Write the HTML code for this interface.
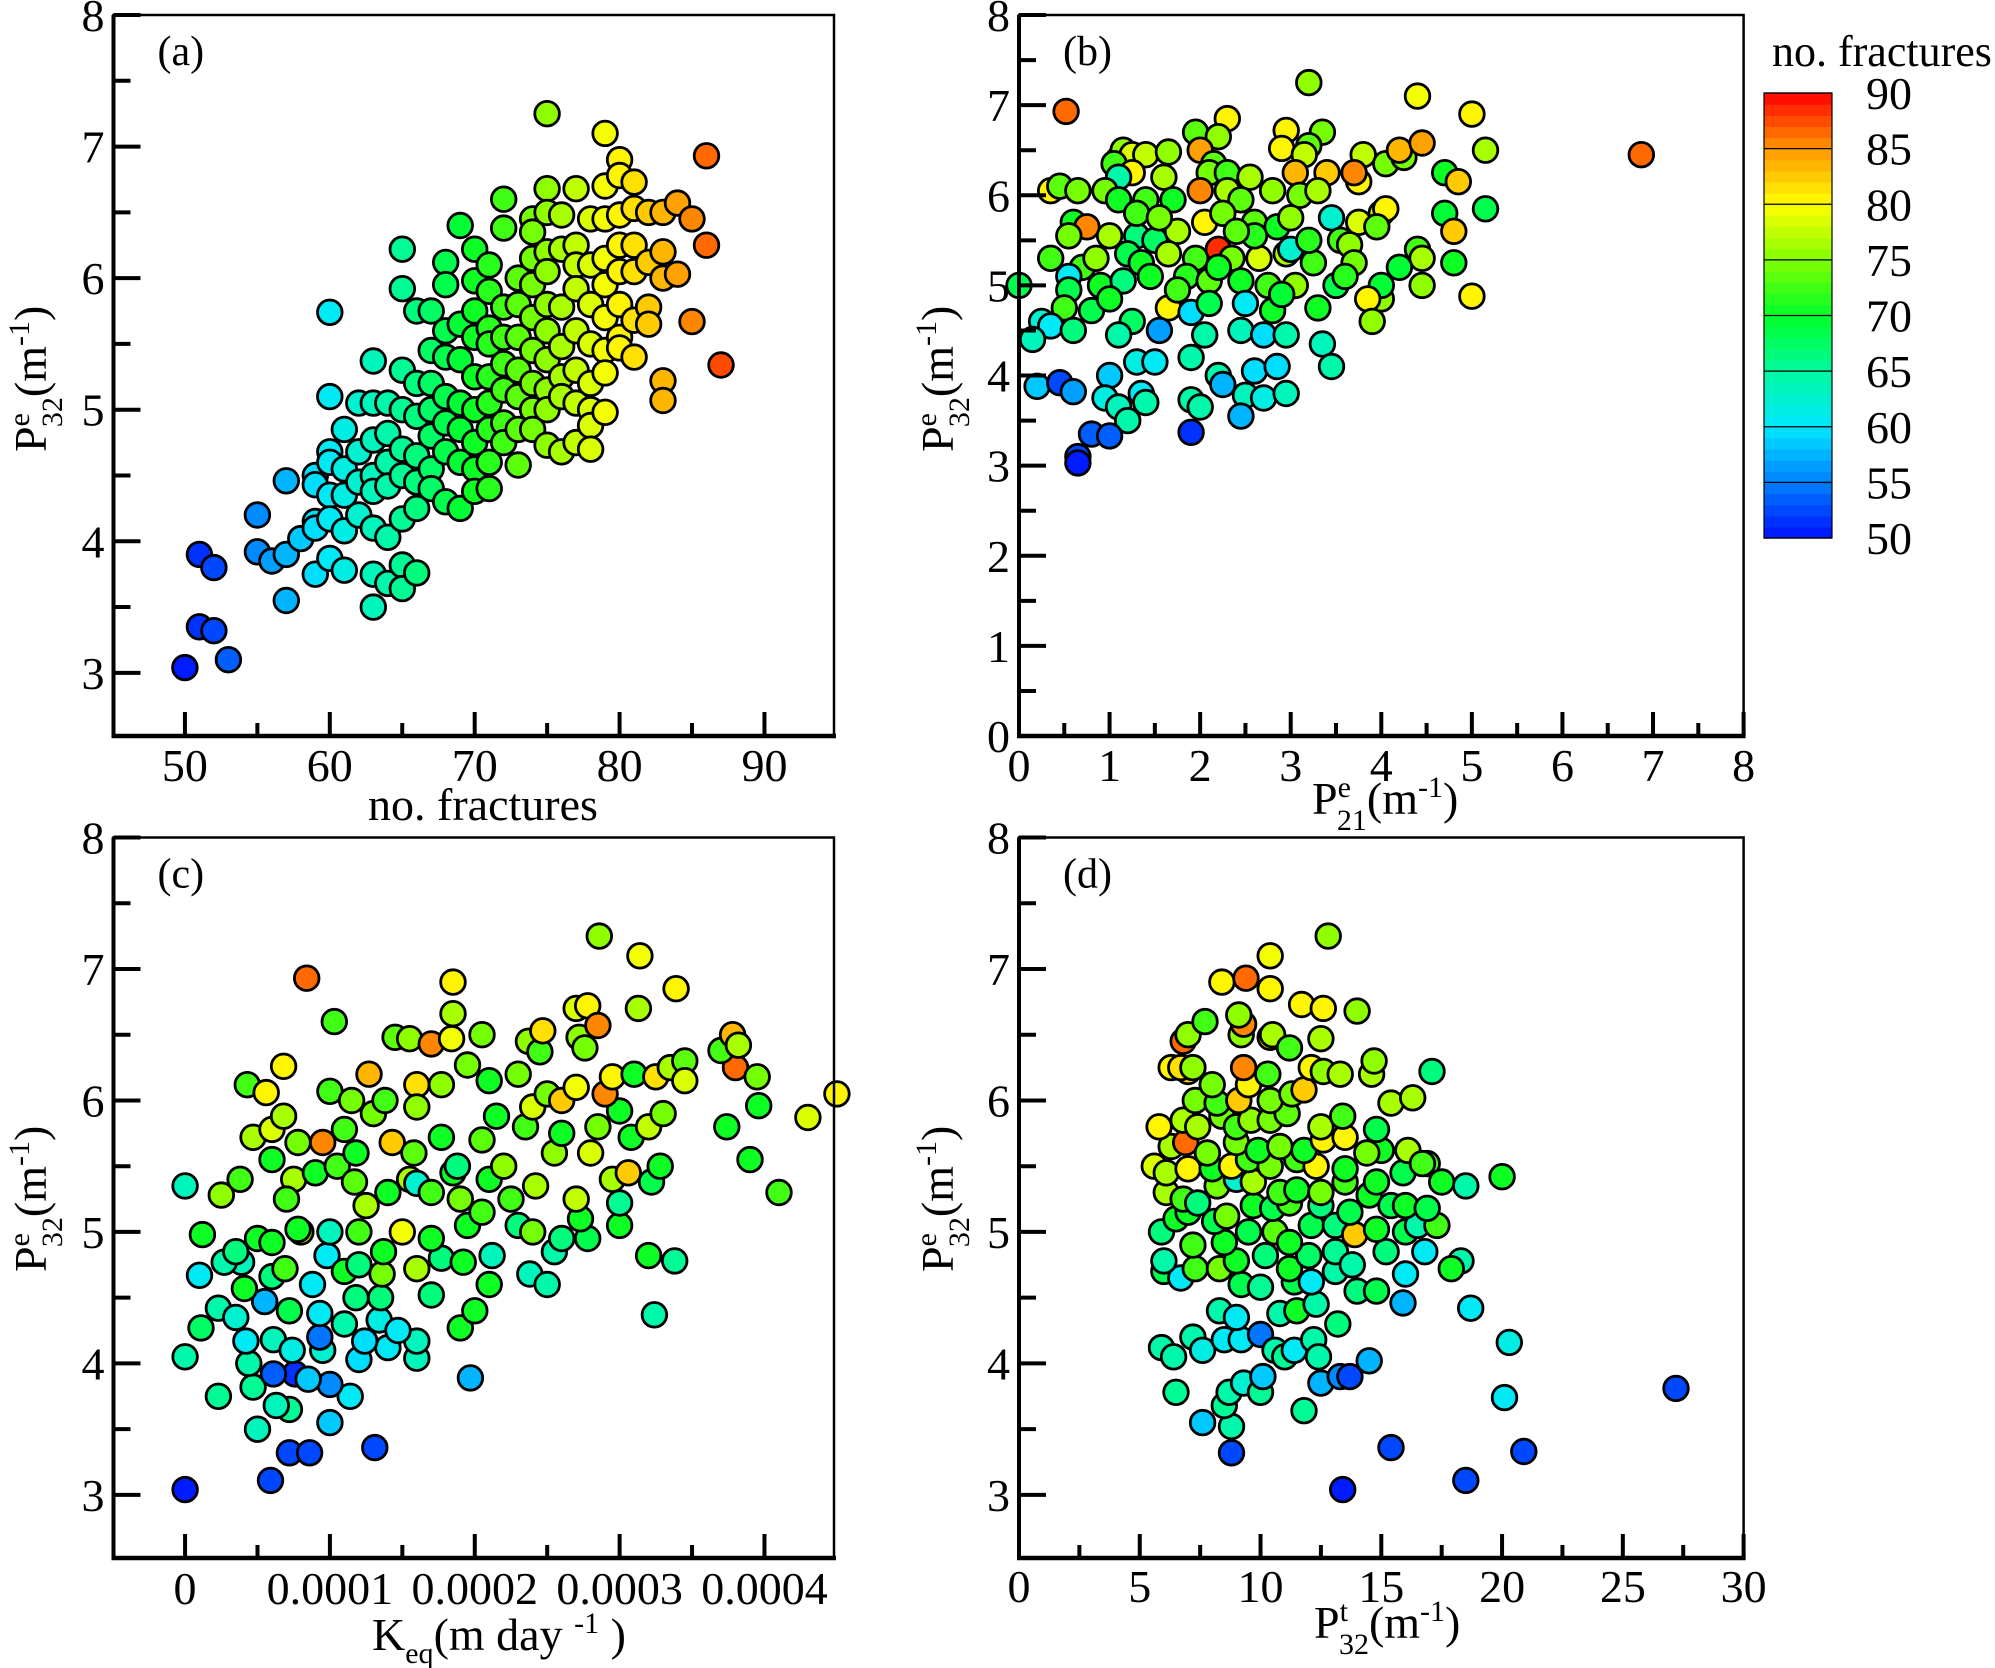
<!DOCTYPE html>
<html><head><meta charset="utf-8"><style>
html,body{margin:0;padding:0;background:#fff;}
svg{display:block;}
text{font-family:"Liberation Serif",serif;fill:#000;}
</style></head>
<body>
<svg id="fig" width="1995" height="1668" viewBox="0 0 1995 1668" xmlns="http://www.w3.org/2000/svg"></svg>
<script>
// ---------- Panel (a): no. fractures vs P32e (colour = no. fractures) ----------
const aFrac = [50,51,51,52,52,53,55,55,56,57,57,57,58,59,59,59,59,59,
60,60,60,60,60,60,60,61,61,61,61,61,62,62,62,62,63,63,63,63,63,63,63,63,64,64,64,64,64,64,
65,65,65,65,65,65,65,65,65,66,66,66,66,66,66,66,67,67,67,67,67,67,67,68,68,68,68,68,68,68,68,
69,69,69,69,69,69,69,70,70,70,70,70,70,70,70,70,71,71,71,71,71,71,71,71,71,72,72,72,72,72,72,72,72,
73,73,73,73,73,73,73,74,74,74,74,74,74,74,74,74,75,75,75,75,75,75,75,75,75,75,75,76,76,76,76,76,76,76,
77,77,77,77,77,77,77,77,78,78,78,78,78,78,78,78,79,79,79,79,79,79,79,79,79,80,80,80,80,80,80,80,80,
81,81,81,81,81,81,82,82,82,82,83,83,83,83,83,84,84,85,85,86,86,87];
const aP32e = [3.04,3.9,3.35,3.8,3.32,3.1,4.2,3.92,3.85,4.46,3.9,3.55,4.02,4.5,4.43,4.15,4.1,3.75,
5.74,5.1,4.68,4.6,4.35,4.17,3.87,4.85,4.55,4.35,4.08,3.78,5.05,4.68,4.45,4.2,5.37,5.05,4.77,4.5,4.38,4.1,3.75,3.5,5.05,4.82,4.6,4.42,4.03,3.68,
6.22,5.92,5.3,5.0,4.7,4.5,4.17,3.82,3.64,5.75,5.2,4.95,4.65,4.45,4.25,3.76,5.75,5.45,5.2,5.0,4.8,4.55,4.4,6.12,5.95,5.6,5.4,5.1,4.9,4.68,4.3,
6.4,5.65,5.38,5.05,4.85,4.6,4.25,6.22,5.98,5.75,5.55,5.25,5.0,4.75,4.55,4.38,6.1,5.9,5.62,5.5,5.25,5.05,4.85,4.6,4.4,6.6,6.38,5.78,5.55,5.35,5.15,4.9,4.75,
6.0,5.8,5.55,5.3,5.1,4.85,4.58,6.45,6.35,6.15,5.95,5.7,5.45,5.2,5.0,4.85,7.25,6.68,6.5,6.2,6.05,5.8,5.6,5.38,5.15,5.0,4.73,6.48,6.22,5.78,5.48,5.25,5.1,4.68,
6.68,6.25,6.1,5.92,5.6,5.3,5.05,4.75,6.45,6.1,5.8,5.5,5.2,5.0,4.88,4.7,7.1,6.7,6.45,6.15,5.95,5.7,5.45,5.28,4.98,6.9,6.78,6.48,6.25,6.05,5.8,5.55,5.47,
6.73,6.53,6.25,6.05,5.68,5.4,6.5,6.12,5.78,5.65,6.5,6.2,6.0,5.22,5.07,6.57,6.03,6.45,5.67,6.93,6.25,5.34];

// ---------- Panel (b): P21e vs P32e ----------
const bP21 = [0.52,6.87,3.2,4.4,5.0,2.3,1.95,2.2,2.95,3.35,3.2,2.9,3.15,3.8,4.05,4.25,4.2,4.45,5.15,1.1,1.15,1.25,1.4,1.65,2.0,2.15,1.05,1.25,1.6,1.1,2.1,2.3,2.55,3.05,3.4,3.75,3.7,4.7,4.85,0.35,0.45,0.65,0.95,1.1,1.4,1.7,2.3,2.0,2.45,2.8,3.1,3.3,4.0,4.05,4.7,5.15,4.8,3.45,3.75,3.95,0.6,0.75,0.55,1.0,1.3,1.5,1.75,2.05,2.25,2.6,2.85,3.0,3.55,3.65,4.4,4.45,4.8,4.2,5.0,0.35,0.7,0.85,1.2,1.35,1.65,1.95,2.2,2.35,2.65,2.95,3.25,3.7,0.55,0.55,0.9,1.15,1.45,1.85,2.1,2.45,2.75,3.05,3.5,3.0,4.0,4.0,4.45,3.85,0.0,0.5,0.8,1.25,1.65,1.9,2.1,2.5,2.8,3.3,3.9,0.25,0.35,0.6,1.1,1.55,2.05,2.45,2.7,2.95,3.35,3.45,0.15,1.3,1.5,1.9,2.2,2.6,2.85,1.0,0.2,0.45,0.6,0.95,1.1,1.35,1.4,1.9,2.0,2.5,2.7,2.95,1.2,2.25,2.45,0.8,1.0,1.9,0.65,0.65,1.3,2.6,2.2,1.75,3.2,2.9,1.55,2.4,1.0,3.6];
const bP32e = [6.93,6.45,7.25,7.1,6.9,6.85,6.7,6.65,6.72,6.7,6.55,6.52,6.45,6.45,6.35,6.42,6.5,6.58,6.5,6.4,6.5,6.45,6.45,6.48,6.5,6.35,6.35,6.25,6.2,6.2,6.25,6.25,6.2,6.25,6.25,6.15,6.25,6.25,6.15,6.05,6.1,6.05,6.05,5.95,5.95,5.95,6.05,6.05,5.95,6.05,6.0,6.05,5.8,5.85,5.8,5.85,5.6,5.75,5.7,5.65,5.7,5.65,5.55,5.55,5.55,5.5,5.6,5.7,5.8,5.7,5.65,5.75,5.5,5.45,5.4,5.3,5.25,5.2,4.88,5.3,5.2,5.3,5.35,5.25,5.35,5.3,5.4,5.3,5.3,5.35,5.25,5.25,5.1,4.95,5.0,5.05,5.1,5.1,5.05,5.05,5.0,5.0,5.0,5.4,4.85,5.0,5.0,4.85,5.0,4.75,4.72,4.6,4.75,4.7,4.8,4.8,4.72,4.75,4.6,4.6,4.55,4.5,4.45,4.5,4.45,4.5,4.45,4.45,4.35,4.1,4.4,4.15,4.15,4.2,4.0,4.05,4.1,4.0,3.88,3.92,3.82,3.75,3.65,3.8,3.7,3.73,3.65,3.78,3.75,3.8,3.5,3.9,3.55,3.35,3.33,3.37,3.1,3.03,5.8,5.55,5.2,4.95,5.5,4.9,5.75,5.6,4.85,5.1];
const bFrac = [86,86,75,79,80,80,73,75,80,74,73,80,77,77,74,74,83,84,76,73,75,78,77,75,84,73,72,80,76,64,74,72,76,83,82,80,85,70,82,80,73,74,74,70,72,70,76,85,73,75,74,76,77,80,69,68,82,62,78,73,70,85,74,76,66,67,76,80,74,73,70,75,72,75,72,76,70,69,80,72,72,75,68,70,76,72,88,74,78,76,72,74,60,68,70,66,70,71,73,70,72,75,68,62,75,69,75,80,68,72,68,67,80,59,68,60,70,70,75,62,60,66,64,56,64,63,59,64,63,64,63,61,60,64,64,59,59,58,58,52,56,61,63,60,64,64,64,63,61,63,64,57,57,53,53,51,52,50,72,71,70,72,71,69,74,73,70,71];

// ---------- Panel (c): Keq (x1e-4 m/day) vs P32e ----------
const cKeq = [0,0.59,0.72,0.86,1.31,0.5,0.72,0.63,0.23,1.14,0.47,0.76,0.61,1.0,0.85,1.0,1.97,0.0,0.44,1.2,1.6,1.6,1.4,0.42,0.61,0.74,0.95,0.93,1.24,0.11,0.23,0.35,0.55,0.72,0.93,1.1,1.34,1.47,1.9,2.0,2.1,1.7,1.18,1.35,0.1,0.39,0.27,0.41,0.6,0.69,0.88,0.98,1.1,1.2,1.36,1.6,1.77,1.92,2.12,2.38,2.5,2.55,0.12,0.35,0.5,0.6,0.8,0.78,1.0,1.2,1.37,1.5,1.7,1.95,2.05,2.3,2.4,2.6,2.78,3.0,3.0,2.73,3.2,3.38,3.24,0.0,0.25,0.38,0.6,0.75,0.7,0.9,1.05,1.17,1.25,1.4,1.55,1.6,1.7,1.85,1.9,2.1,2.2,2.25,2.42,2.55,2.7,2.8,2.95,3.06,3.22,3.28,0.47,0.6,0.68,0.78,0.95,1.1,1.18,1.3,1.43,1.58,1.77,1.88,2.05,2.15,2.35,2.4,2.6,2.85,3.0,3.08,3.2,3.3,3.74,3.9,4.1,3.96,4.3,0.43,0.56,0.68,1.0,1.15,1.27,1.38,1.6,1.77,1.6,1.95,2.1,2.3,2.5,2.6,2.7,2.9,2.95,3.1,3.25,3.35,3.45,3.8,3.95,3.45,3.7,3.78,3.82,1.45,1.55,1.7,1.84,2.05,2.37,2.45,2.47,2.7,2.78,2.72,2.85,2.76,1.03,1.85,1.85,0.84,2.86,3.14,3.39,3.13,4.5];
const cP32e = [3.04,3.11,3.32,3.32,3.36,3.5,3.65,3.68,3.75,3.75,3.82,3.92,3.92,3.84,3.88,3.55,3.89,4.05,4.0,4.03,4.04,4.17,4.12,4.17,4.18,4.1,4.1,4.2,4.17,4.27,4.42,4.35,4.47,4.4,4.38,4.3,4.33,4.25,4.27,4.4,4.6,4.52,4.5,4.5,4.67,4.77,4.77,4.57,4.66,4.72,4.6,4.82,4.7,4.75,4.68,4.72,4.8,4.77,4.82,4.68,4.6,4.85,4.98,4.85,4.95,4.92,5.0,5.02,5.0,5.0,4.85,5.0,4.95,5.05,5.15,5.05,5.0,4.95,4.95,5.05,5.22,5.1,4.82,4.78,4.37,5.35,5.28,5.4,5.55,5.4,5.25,5.45,5.5,5.38,5.2,5.3,5.4,5.37,5.3,5.45,5.25,5.4,5.5,5.25,5.35,5.6,5.25,5.6,5.4,5.45,5.38,5.5,5.72,5.78,5.88,5.68,5.68,5.78,5.6,5.9,5.68,5.6,5.72,5.5,5.7,5.88,5.8,5.95,5.75,5.8,5.92,5.72,5.8,5.9,5.8,5.55,5.3,5.96,5.87,6.12,6.06,6.26,6.07,6.0,6.2,6.0,6.12,6.12,5.95,6.27,6.15,6.2,6.05,6.0,6.1,6.05,6.18,6.2,6.18,6.25,6.3,6.25,6.18,6.15,6.38,6.5,6.42,6.48,6.47,6.43,6.47,6.5,6.45,6.37,6.53,6.7,6.72,6.48,6.57,6.4,6.6,6.66,6.9,6.93,7.25,7.1,6.85,6.7,6.05];
const cFrac = [50,52,52,52,52,63,65,63,65,60,65,51,53,55,58,58,57,64,64,59,63,63,60,60,63,61,62,54,59,67,64,62,57,68,60,64,61,60,70,70,70,66,66,66,60,63,64,70,66,72,60,60,70,66,74,76,66,70,63,63,64,64,70,66,70,70,75,70,63,72,70,79,70,70,72,66,74,66,68,70,65,70,70,65,64,63,75,72,70,76,72,70,72,73,76,70,76,62,72,70,74,70,75,72,76,75,77,78,76,82,68,70,76,78,76,74,85,72,70,74,82,73,70,66,73,70,72,78,70,74,70,70,77,74,70,70,72,70,78,72,80,80,72,74,83,72,81,75,75,74,70,74,74,82,79,85,80,70,81,76,73,86,74,78,72,83,76,73,75,85,79,74,75,72,81,78,80,75,85,74,72,76,80,86,75,79,80,76,80];

// ---------- Panel (d): P32t vs P32e ----------
const dP32t = [13.4,18.5,15.4,20.9,8.8,27.2,8.8,7.6,8.5,8.7,6.5,9.3,10.0,10.1,11.8,12.5,13.3,13.7,14.5,20.1,20.3,18.7,5.9,6.4,7.2,7.6,8.5,9.2,10.0,10.6,11.0,11.4,12.2,12.4,8.3,9.0,10.8,11.5,12.3,13.2,15.9,9.2,10.0,11.4,12.1,13.1,14.0,14.8,16.0,6.0,6.7,7.3,8.3,9.0,10.2,11.2,12.0,13.1,13.8,15.2,16.8,18.3,17.9,6.0,7.2,8.5,9.5,10.6,11.2,12.1,13.1,13.9,14.8,16.0,16.5,17.3,5.9,6.5,7.0,8.1,8.6,9.7,10.5,11.2,12.5,13.7,14.5,15.4,16.0,16.9,6.1,6.8,7.4,8.2,9.0,9.7,10.8,11.5,12.5,13.5,14.8,5.6,6.1,7.0,8.0,8.8,9.5,10.4,11.5,12.3,13.5,15.0,15.9,16.9,17.5,18.5,20.0,6.3,6.9,7.8,9.0,9.9,10.8,11.8,12.6,13.5,14.4,16.1,16.7,5.8,6.8,7.4,8.4,9.0,9.6,10.4,11.1,12.5,13.4,14.8,7.3,8.2,9.1,10.4,11.3,11.8,15.4,16.3,7.0,8.0,9.5,9.3,10.3,12.1,12.6,13.3,14.6,14.7,17.1,6.3,6.7,7.2,6.8,7.0,9.2,9.3,10.4,10.5,11.2,12.5,9.1,7.7,11.7,12.6,14.0,8.4,9.4,10.4,10.4,12.8];
const dP32e = [3.04,3.11,3.36,3.33,3.32,3.81,3.52,3.55,3.68,3.78,3.78,3.85,3.78,3.9,3.64,3.85,3.9,3.9,4.02,3.74,4.16,4.42,4.12,4.05,4.2,4.1,4.18,4.18,4.22,4.1,4.05,4.1,4.18,4.05,4.4,4.35,4.38,4.4,4.45,4.3,4.46,4.6,4.58,4.62,4.62,4.7,4.55,4.55,4.68,4.7,4.65,4.72,4.72,4.78,4.82,4.72,4.82,4.85,4.75,4.85,4.85,4.78,4.72,4.78,4.9,4.92,5.0,5.0,4.92,5.05,5.05,4.98,5.02,5.0,5.05,5.05,5.0,5.1,5.15,5.08,5.12,5.2,5.18,5.22,5.2,5.15,5.28,5.2,5.2,5.18,5.3,5.25,5.22,5.35,5.4,5.38,5.3,5.32,5.3,5.38,5.38,5.5,5.45,5.48,5.48,5.5,5.55,5.5,5.55,5.5,5.48,5.62,5.45,5.52,5.38,5.35,5.42,5.65,5.68,5.6,5.68,5.62,5.65,5.62,5.7,5.72,5.6,5.62,5.52,5.8,5.85,5.8,5.88,5.8,5.85,5.85,5.9,5.8,5.88,5.78,6.0,5.98,6.0,6.0,6.05,6.08,5.98,6.02,6.22,6.12,6.12,6.25,6.2,6.25,6.22,6.2,6.2,6.3,6.22,6.25,6.25,6.25,6.45,6.5,6.5,6.58,6.48,6.5,6.4,6.47,6.65,6.6,6.73,6.7,6.68,6.9,6.93,6.85,7.1,7.25];
const dFrac = [50,52,52,52,52,52,64,58,65,64,65,62,65,58,65,57,55,52,57,60,61,60,64,64,64,61,60,60,54,64,65,60,64,64,64,60,64,70,64,66,57,68,65,68,60,64,66,68,60,68,60,72,74,70,66,70,67,65,64,66,60,64,70,64,72,70,68,73,70,68,66,82,70,68,64,72,66,70,70,68,74,70,68,72,66,68,70,68,70,68,76,72,66,74,62,76,72,70,74,72,70,78,76,80,70,80,72,74,72,80,70,70,68,72,70,64,70,76,86,74,74,70,74,70,80,80,74,76,72,80,76,76,74,72,75,74,73,76,72,68,74,72,82,74,74,82,76,76,82,74,80,85,72,80,75,76,76,75,66,80,81,75,86,75,75,85,80,76,72,76,75,72,80,80,75,80,86,80,79,75];

// ---------- Colour bar ----------
const cbTicks = [50,55,60,65,70,75,80,85,90];
const cbStops = [[50,[0,16,255]],[55,[0,128,255]],[60,[0,232,255]],[65,[0,250,160]],[70,[0,255,40]],[75,[130,255,0]],[80,[255,255,0]],[85,[255,150,0]],[90,[255,0,0]]];

const NS = 'http://www.w3.org/2000/svg';
const svg = document.getElementById('fig');
function mk(tag, attrs, parent){ const e = document.createElementNS(NS, tag); for (const k in attrs) e.setAttribute(k, attrs[k]); (parent||svg).appendChild(e); return e; }
function colorOf(n){
  n = Math.max(50, Math.min(90, Math.floor(n)+0.5));
  for (let i=0;i<cbStops.length-1;i++){
    const [a,ca]=cbStops[i],[b,cb]=cbStops[i+1];
    if (n>=a && n<=b){ const t=(n-a)/(b-a); return 'rgb('+ca.map((v,j)=>Math.round(v+(cb[j]-v)*t)).join(',')+')'; }
  }
  return 'rgb(255,0,0)';
}

const PX = {L:113.5, R:834}, PX2 = {L:1019, R:1743.6};
const TOP1=15, BOT1=736, TOP2=837.5, BOT2=1558;
const TF = 46;

function makePanel(cfg){
  const g = mk('g', {});
  
  
  const sx = v => cfg.L + (v - cfg.x0)/(cfg.x1 - cfg.x0)*(cfg.R - cfg.L);
  const sy = v => cfg.B - (v - cfg.y0)/(cfg.y1 - cfg.y0)*(cfg.B - cfg.T);
  const pg = mk('g', {}, g);
  
  
  for (let i=0;i<cfg.xs.length;i++){
    const c = mk('circle', {cx:sx(cfg.xs[i]).toFixed(1), cy:sy(cfg.ys[i]).toFixed(1), r:12.3, fill:colorOf(cfg.cs[i]), stroke:'#000', 'stroke-width':2.8}, pg);
    
    
  }
  const fr = mk('rect', {x:cfg.L, y:cfg.T, width:cfg.R-cfg.L, height:cfg.B-cfg.T, fill:'none', stroke:'#000', 'stroke-width':2.5}, g);
  
  
  const xa = mk('line', {x1:cfg.L-2, x2:cfg.R+2, y1:cfg.B, y2:cfg.B, stroke:'#000', 'stroke-width':4.5}, g);
  
  
  const ya = mk('line', {x1:cfg.L, x2:cfg.L, y1:cfg.T, y2:cfg.B, stroke:'#000', 'stroke-width':4}, g);
  
  
  for (let k=0;k<cfg.xMinor.length;k++){
    const X=sx(cfg.xMinor[k]);
    mk('line', {x1:X,x2:X,y1:cfg.B,y2:cfg.B-13,stroke:'#000','stroke-width':4}, g);
  }
  for (let k=0;k<cfg.xMajor.length;k++){
    const X=sx(cfg.xMajor[k]);
    mk('line', {x1:X,x2:X,y1:cfg.B,y2:cfg.B-24,stroke:'#000','stroke-width':4}, g);
    const t = mk('text', {x:X, y:cfg.xLabY, 'font-size':TF, 'text-anchor':'middle'}, g);
    t.textContent = cfg.xLabels[k];
    
    
  }
  for (let k=0;k<cfg.yMinor.length;k++){
    const Y=sy(cfg.yMinor[k]);
    mk('line', {x1:cfg.L,x2:cfg.L+17,y1:Y,y2:Y,stroke:'#000','stroke-width':4}, g);
  }
  for (let k=0;k<cfg.yMajor.length;k++){
    const Y=sy(cfg.yMajor[k]);
    mk('line', {x1:cfg.L,x2:cfg.L+27,y1:Y,y2:Y,stroke:'#000','stroke-width':4}, g);
    const t = mk('text', {x:cfg.L-9, y:Y+16, 'font-size':TF, 'text-anchor':'end'}, g);
    t.textContent = String(cfg.yMajor[k]);
    
    
  }
  const pl = mk('text', {x:cfg.L+44, y:cfg.T+50, 'font-size':42}, g);
  pl.textContent = cfg.label;
  
  
  return g;
}
function range(a,b,s){ const r=[]; for(let v=a; v<=b+1e-9; v+=s) r.push(+v.toFixed(6)); return r; }

makePanel({name:'panel-a', label:'(a)', L:PX.L, R:PX.R, T:TOP1, B:BOT1, x0:45.07, x1:94.8, y0:2.52, y1:8,
  xs:aFrac, ys:aP32e, cs:aFrac, xMajor:[50,60,70,80,90], xLabels:['50','60','70','80','90'], xMinor:[55,65,75,85], xLabY:781,
  yMajor:[3,4,5,6,7,8], yMinor:[3.5,4.5,5.5,6.5,7.5]});
makePanel({name:'panel-b', label:'(b)', L:PX2.L, R:PX2.R, T:TOP1, B:BOT1, x0:0, x1:8, y0:0, y1:8,
  xs:bP21, ys:bP32e, cs:bFrac, xMajor:range(0,8,1), xLabels:['0','1','2','3','4','5','6','7','8'], xMinor:range(0.5,7.5,1), xLabY:781,
  yMajor:range(0,8,1), yMinor:range(0.5,7.5,1)});
makePanel({name:'panel-c', label:'(c)', L:PX.L, R:PX.R, T:TOP2, B:BOT2, x0:-0.494, x1:4.48, y0:2.52, y1:8,
  xs:cKeq, ys:cP32e, cs:cFrac, xMajor:[0,1,2,3,4], xLabels:['0','0.0001','0.0002','0.0003','0.0004'], xMinor:[0.5,1.5,2.5,3.5], xLabY:1604,
  yMajor:[3,4,5,6,7,8], yMinor:[3.5,4.5,5.5,6.5,7.5]});
makePanel({name:'panel-d', label:'(d)', L:PX2.L, R:PX2.R, T:TOP2, B:BOT2, x0:0, x1:30, y0:2.52, y1:8,
  xs:dP32t, ys:dP32e, cs:dFrac, xMajor:range(0,30,5), xLabels:['0','5','10','15','20','25','30'], xMinor:range(2.5,27.5,5), xLabY:1602,
  yMajor:[3,4,5,6,7,8], yMinor:[3.5,4.5,5.5,6.5,7.5]});
</script>

<svg style="position:absolute;left:0;top:0" width="1995" height="1668" xmlns="http://www.w3.org/2000/svg">
  <g font-family="Liberation Serif, serif" font-size="46">
    <text transform="translate(46,452) rotate(-90)">P<tspan font-size="30" dy="-17">e</tspan><tspan font-size="30" dx="-14" dy="33">32</tspan><tspan dy="-16">(m</tspan><tspan font-size="30" dy="-17">-1</tspan><tspan dy="17">)</tspan></text>
    <text transform="translate(953,452) rotate(-90)">P<tspan font-size="30" dy="-17">e</tspan><tspan font-size="30" dx="-14" dy="33">32</tspan><tspan dy="-16">(m</tspan><tspan font-size="30" dy="-17">-1</tspan><tspan dy="17">)</tspan></text>
    <text transform="translate(46,1272) rotate(-90)">P<tspan font-size="30" dy="-17">e</tspan><tspan font-size="30" dx="-14" dy="33">32</tspan><tspan dy="-16">(m</tspan><tspan font-size="30" dy="-17">-1</tspan><tspan dy="17">)</tspan></text>
    <text transform="translate(953,1272) rotate(-90)">P<tspan font-size="30" dy="-17">e</tspan><tspan font-size="30" dx="-14" dy="33">32</tspan><tspan dy="-16">(m</tspan><tspan font-size="30" dy="-17">-1</tspan><tspan dy="17">)</tspan></text>
    <text x="483" y="820" text-anchor="middle">no. fractures</text>
    <text x="1312" y="814">P<tspan font-size="30" dy="-17">e</tspan><tspan font-size="30" dx="-14" dy="33">21</tspan><tspan dy="-16">(m</tspan><tspan font-size="30" dy="-17">-1</tspan><tspan dy="17">)</tspan></text>
    <text x="372" y="1650">K<tspan font-size="30" dy="13">eq</tspan><tspan dy="-13">(m    day </tspan><tspan font-size="30" dy="-17">-1</tspan><tspan dy="17"> )</tspan></text>
    <text x="1314" y="1638">P<tspan font-size="30" dy="-17">t</tspan><tspan font-size="30" dx="-9" dy="33">32</tspan><tspan dy="-16">(m</tspan><tspan font-size="30" dy="-17">-1</tspan><tspan dy="17">)</tspan></text>
  </g>
</svg>

<svg id="cb" style="position:absolute;left:0;top:0" width="1995" height="1668" xmlns="http://www.w3.org/2000/svg">
  <text x="1772" y="66" font-family="Liberation Serif, serif" font-size="44">no. fractures</text>
</svg>
<script>
(function(){
  const cb = document.getElementById('cb');
  const X0=1764, X1=1832, YT=93, YB=538;
  const sy = v => YB - (v-50)/40*(YB-YT);
  for (let n=50;n<90;n++){
    const r = document.createElementNS(NS,'rect');
    r.setAttribute('x',X0); r.setAttribute('width',X1-X0);
    r.setAttribute('y',sy(n+1)); r.setAttribute('height',(sy(n)-sy(n+1)+0.6));
    r.setAttribute('fill',colorOf(n));
    
    
    cb.appendChild(r);
  }
  for (const v of cbTicks){
    const l = document.createElementNS(NS,'line');
    l.setAttribute('x1',X0); l.setAttribute('x2',X1); l.setAttribute('y1',sy(v)); l.setAttribute('y2',sy(v));
    l.setAttribute('stroke','#000'); l.setAttribute('stroke-width',1.2);
    cb.appendChild(l);
    const t = document.createElementNS(NS,'text');
    t.setAttribute('x',1866); t.setAttribute('y',sy(v)+16);
    t.setAttribute('font-family','Liberation Serif, serif'); t.setAttribute('font-size',46);
    t.textContent = String(v);
    
    
    cb.appendChild(t);
  }
  const fr = document.createElementNS(NS,'rect');
  fr.setAttribute('x',X0); fr.setAttribute('y',YT); fr.setAttribute('width',X1-X0); fr.setAttribute('height',YB-YT);
  fr.setAttribute('fill','none'); fr.setAttribute('stroke','#000'); fr.setAttribute('stroke-width',1.2);
  
  
  cb.appendChild(fr);
})();
</script>
</body></html>
